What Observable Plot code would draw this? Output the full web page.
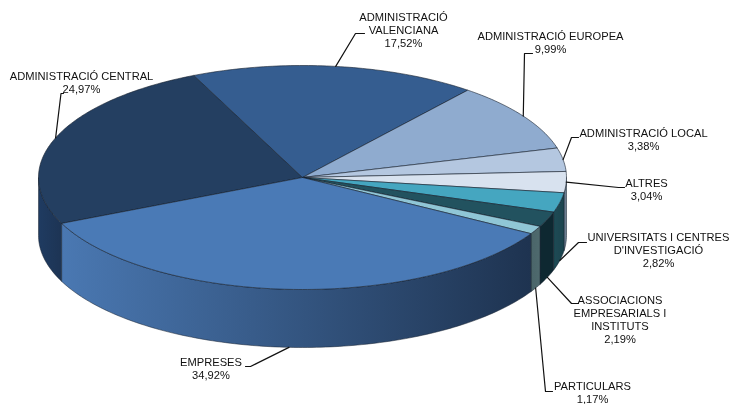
<!DOCTYPE html>
<html><head><meta charset="utf-8">
<style>html,body{margin:0;padding:0;background:#fff}svg{display:block;filter:blur(0.3px)}</style>
<script src="https://cdn.jsdelivr.net/npm/d3@7"></script>
<script src="https://cdn.jsdelivr.net/npm/@observablehq/plot@0.6"></script>
</head><body><script>
// Data, clockwise from the Central / Empreses boundary
const names = ["ADMINISTRACIÓ CENTRAL","ADMINISTRACIÓ VALENCIANA","ADMINISTRACIÓ EUROPEA","ADMINISTRACIÓ LOCAL","ALTRES","UNIVERSITATS I CENTRES D'INVESTIGACIÓ","ASSOCIACIONS EMPRESARIALS I INSTITUTS","PARTICULARS","EMPRESES"];
const values = [24.97,17.52,9.99,3.38,3.04,2.82,2.19,1.17,34.92];
const valueLabels = ["24,97%","17,52%","9,99%","3,38%","3,04%","2,82%","2,19%","1,17%","34,92%"];
const nameLines = [["ADMINISTRACIÓ CENTRAL"],["ADMINISTRACIÓ","VALENCIANA"],["ADMINISTRACIÓ EUROPEA"],["ADMINISTRACIÓ LOCAL"],["ALTRES"],["UNIVERSITATS I CENTRES","D'INVESTIGACIÓ"],["ASSOCIACIONS","EMPRESARIALS I","INSTITUTS"],["PARTICULARS"],["EMPRESES"]];
// Styles and layout
const topColors = ["#243f61","#355d90","#8fabcf","#b4c7e0","#d8e2ef","#45a6c0","#22525f","#90c6d6","#4a7ab6"];
const wallStops = [
  ["#1f3b61","#1d3454"],["#2a4a73","#2a4a73"],["#6f87a5","#6f87a5"],["#8a9cb2","#8a9cb2"],
  ["#7f92a6","#5e7385"],["#1e4a55","#1b444e"],["#0e2831","#0e2831"],["#4a6569","#4f6a6e"],
  ["#4a78b2","#1e3350"]];
const labelX = [81,403,550,643,646,658,619.5,592,210.5];
const labelY = [82,29.5,42,139,189,249,318.5,392,368];
const elbowX = [60.5,355,524,571,618,578,571,545,250];
const elbowY = [93,33,53,137,187,242,303,391,366];
const elbowEndX = [63,364,532,578,624,586,578,552,245];

const cx = 302, cy = 177, rx = 264, ry = 112, depth = 58, startAngle = 245.8;
const rad = d => d * Math.PI / 180;
const ex = a => cx + rx * Math.sin(rad(a));
const ey = a => cy - ry * Math.cos(rad(a));

let acc = startAngle;
const slices = values.map((v, i) => {
  const a0 = acc, a1 = acc + v * 3.6; acc = a1;
  return {i, a0, a1, mid: (a0 + a1) / 2};
});
const norm = a => ((a % 360) + 360) % 360;
const arc = (a0, a1) => { // one point per degree, both ends included
  const n = Math.max(2, Math.ceil(Math.abs(a1 - a0)));
  return d3.range(n + 1).map(k => a0 + (a1 - a0) * k / n);
};
const topPoly = s => [[cx, cy], ...arc(s.a0, s.a1).map(a => [ex(a), ey(a)]), [cx, cy]];
const wallPoly = s => {
  // visible part of the wall: 90° to 270°, clockwise from the top
  let out = null;
  for (const shift of [0, 360, -360]) {
    const a0 = Math.max(s.a0 + shift, 90), a1 = Math.min(s.a1 + shift, 270);
    if (a1 > a0) { out = [a0, a1]; break; }
  }
  if (!out) return null;
  const pts = arc(out[0], out[1]);
  const poly = [...pts.map(a => [ex(a), ey(a)]), ...pts.slice().reverse().map(a => [ex(a), ey(a) + depth])];
  poly.push(poly[0]);
  return poly;
};
const edgeColor = "#16202e";
const marks = [];
marks.push(() => {
  const ns = "http://www.w3.org/2000/svg";
  const defs = document.createElementNS(ns, "defs");
  wallStops.forEach((st, i) => {
    const g = document.createElementNS(ns, "linearGradient");
    g.setAttribute("id", "wall" + i);
    st.forEach((c, k) => {
      const s = document.createElementNS(ns, "stop");
      s.setAttribute("offset", k);
      s.setAttribute("stop-color", c);
      g.appendChild(s);
    });
    defs.appendChild(g);
  });
  const svgG = document.createElementNS(ns, "g");
  svgG.appendChild(defs);
  return svgG;
});
for (const s of slices) {
  const w = wallPoly(s);
  if (w) marks.push(Plot.line(w, {x: d => d[0], y: d => d[1], fill: `url(#wall${s.i})`, stroke: edgeColor, strokeWidth: 0.5, curve: "linear"}));
}
for (const s of slices) {
  marks.push(Plot.line(topPoly(s), {x: d => d[0], y: d => d[1], fill: topColors[s.i], stroke: edgeColor, strokeWidth: 0.6, curve: "linear"}));
}
// leader lines start at the slice's mid-angle, on the bottom rim if the wall faces us
slices.forEach(s => {
  const a = norm(s.mid);
  const onWall = a > 95 && a < 265;
  const start = [ex(a), ey(a) + (onWall ? depth : 0)];
  marks.push(Plot.line([start, [elbowX[s.i], elbowY[s.i]], [elbowEndX[s.i], elbowY[s.i]]], {x: d => d[0], y: d => d[1], stroke: "#111", strokeWidth: 1.2, curve: "linear"}));
});
const labels = names.map((n, i) => ({text: [...nameLines[i], valueLabels[i]].join("\n"), x: labelX[i], y: labelY[i]}));
marks.push(Plot.text(labels, {x: "x", y: "y", text: "text", textAnchor: "middle", lineAnchor: "middle", lineHeight: 1.17, fontSize: 11.15, fontFamily: "Liberation Sans, Arial, sans-serif", fill: "#111"}));

document.body.appendChild(Plot.plot({
  width: 732, height: 404,
  margin: 0,
  x: {domain: [0, 732], range: [0, 732], axis: null},
  y: {domain: [0, 404], range: [0, 404], axis: null},
  style: {background: "#fff"},
  marks
}));
</script></body></html>
